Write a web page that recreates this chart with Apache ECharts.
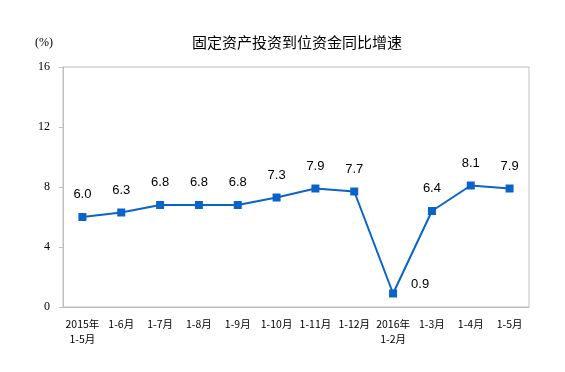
<!DOCTYPE html>
<html><head><meta charset="utf-8">
<script src="https://cdn.jsdelivr.net/npm/echarts@6/dist/echarts.min.js"></script>
<style>html,body{margin:0;padding:0;background:#fff}#c{width:565px;height:372px}</style>
</head><body><div id="c"></div>
<script>
const categories = ['2015年\n1-5月','1-6月','1-7月','1-8月','1-9月','1-10月','1-11月','1-12月','2016年\n1-2月','1-3月','1-4月','1-5月'];
const values = [6.0,6.3,6.8,6.8,6.8,7.3,7.9,7.7,0.9,6.4,8.1,7.9];
const yTicks = [0,4,8,12,16];

const chart = echarts.init(document.getElementById('c'));
chart.setOption({
  animation:false,
  title:{text:'固定资产投资到位资金同比增速',left:292,textAlign:'center',top:30,
    textStyle:{fontFamily:'Noto Sans CJK SC',fontSize:15,fontWeight:'normal',color:'#000'}},
  graphic:[{type:'text',left:35,top:37,style:{text:'(%)',font:'12px "Liberation Serif"',fill:'#000'}}],
  grid:{left:63,right:36,top:67,bottom:65,show:true,borderColor:'#bfbfbf',borderWidth:1},
  xAxis:{type:'category',data:categories,boundaryGap:true,
    axisLine:{lineStyle:{color:'#bfbfbf',width:1}},
    axisTick:{inside:true,length:4,lineStyle:{color:'#bfbfbf'}},
    axisLabel:{interval:0,color:'#000',fontFamily:'Noto Sans CJK SC',fontSize:10.5,margin:10,lineHeight:15,verticalAlign:'top'}},
  yAxis:{type:'value',min:0,max:16,interval:4,
    axisLine:{show:true,lineStyle:{color:'#bfbfbf'}},
    axisTick:{show:true,length:4,lineStyle:{color:'#bfbfbf'}},
    splitLine:{show:false},
    axisLabel:{color:'#000',fontFamily:'Liberation Serif',fontSize:12,margin:13,
      formatter:v=>yTicks.includes(v)?String(v):''}},
  series:[{type:'line',symbol:'rect',symbolSize:8,
    lineStyle:{color:'#0a64c8',width:2},itemStyle:{color:'#0a64c8'},
    label:{show:true,position:'top',distance:12,color:'#000',fontFamily:'Liberation Sans',fontSize:13,
      formatter:p=>p.value.toFixed(1)},
    data:values.map((v,i)=>i===8?{value:v,label:{position:'right',distance:14,offset:[0,-9]}}:v)
  }]
});
</script></body></html>
